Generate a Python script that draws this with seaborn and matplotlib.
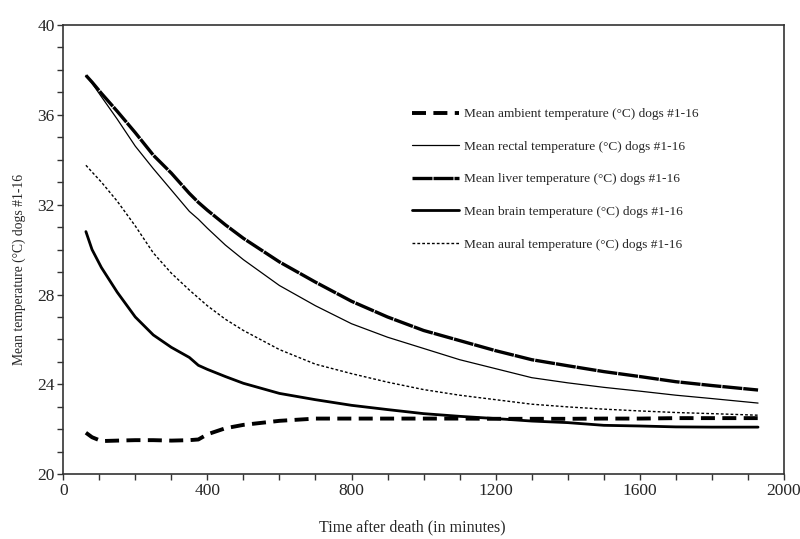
import matplotlib
matplotlib.use('Agg')
import numpy as np
import pandas as pd
import matplotlib.pyplot as plt
from matplotlib.ticker import MultipleLocator
import seaborn as sns

# Time after death (minutes)
time_min = [63, 80, 106, 150, 200, 250, 300, 350, 375, 400, 450, 500, 600, 700, 800,
            900, 1000, 1100, 1200, 1300, 1400, 1500, 1600, 1700, 1800, 1928]

ambient = [21.85, 21.65, 21.48, 21.5, 21.52, 21.52, 21.5, 21.52, 21.55, 21.78, 22.05, 22.2,
           22.38, 22.48, 22.48, 22.48, 22.48, 22.48, 22.47, 22.47, 22.47, 22.48, 22.48,
           22.5, 22.5, 22.5]
rectal = [37.75, 37.4, 36.8, 35.8, 34.6, 33.6, 32.65, 31.7, 31.35, 30.95, 30.2, 29.55,
          28.4, 27.5, 26.7, 26.1, 25.6, 25.1, 24.7, 24.3, 24.07, 23.87, 23.7, 23.52,
          23.37, 23.17]
liver = [37.75, 37.45, 36.95, 36.15, 35.2, 34.2, 33.4, 32.5, 32.1, 31.75, 31.1, 30.5,
         29.45, 28.55, 27.7, 27.0, 26.4, 25.95, 25.5, 25.1, 24.83, 24.57, 24.35, 24.12,
         23.95, 23.75]
brain = [30.8, 30.0, 29.2, 28.1, 27.0, 26.2, 25.65, 25.2, 24.85, 24.67, 24.35, 24.05,
         23.6, 23.32, 23.07, 22.88, 22.7, 22.58, 22.48, 22.37, 22.3, 22.18, 22.15, 22.11,
         22.1, 22.1]
aural = [33.75, 33.45, 33.0, 32.15, 31.05, 29.85, 28.95, 28.2, 27.85, 27.5, 26.9, 26.4,
         25.55, 24.9, 24.48, 24.1, 23.77, 23.52, 23.32, 23.12, 23.0, 22.9, 22.82, 22.75,
         22.7, 22.63]

labels = ['Mean ambient temperature (°C) dogs #1-16',
          'Mean rectal temperature (°C) dogs #1-16',
          'Mean liver temperature (°C) dogs #1-16',
          'Mean brain temperature (°C) dogs #1-16',
          'Mean aural temperature (°C) dogs #1-16']

sns.set_style('ticks')
plt.rcParams['font.family'] = ['Liberation Serif', 'DejaVu Serif']

df = pd.DataFrame({'time': time_min, 'ambient': ambient, 'rectal': rectal,
                   'liver': liver, 'brain': brain, 'aural': aural})

styles = {
    'ambient': dict(lw=2.8, linestyle=(0, (3.6, 1.9))),
    'rectal': dict(lw=0.9, linestyle='-'),
    'liver': dict(lw=2.4, linestyle=(0, (6, 0.3))),
    'brain': dict(lw=2.0, linestyle='-'),
    'aural': dict(lw=1.0, linestyle=(0, (2, 1.5))),
}

fig = plt.figure(figsize=(8, 5.39), dpi=100)
ax = fig.add_axes([0.079, 0.12, 0.901, 0.834])

for key, lab in zip(['ambient', 'rectal', 'liver', 'brain', 'aural'], labels):
    sns.lineplot(data=df, x='time', y=key, ax=ax, color='black', label=lab, **styles[key])

ax.set_xlim(0, 2000)
ax.set_ylim(20, 40)
ax.xaxis.set_major_locator(MultipleLocator(400))
ax.xaxis.set_minor_locator(MultipleLocator(100))
ax.yaxis.set_major_locator(MultipleLocator(4))
ax.yaxis.set_minor_locator(MultipleLocator(1))
ax.tick_params(which='both', direction='out', length=4, width=1, color='#333333',
               labelsize=12.5, pad=2)

for s in ax.spines.values():
    s.set_visible(True)
    s.set_color('#333333')
    s.set_linewidth(1.2)

ax.set_xlabel('Time after death (in minutes)', fontsize=11.5)
ax.set_ylabel('Mean temperature (°C) dogs #1-16', fontsize=9.8)
ax.xaxis.set_label_coords(0.485, -0.1)
ax.yaxis.set_label_coords(-0.052, 0.456)

ax.legend(loc='upper left', bbox_to_anchor=(0.475, 0.83), frameon=False, fontsize=9.6,
          handlelength=3.5, handletextpad=0.4, labelspacing=1.52, borderpad=0)

fig.savefig('out.png', dpi=100)
